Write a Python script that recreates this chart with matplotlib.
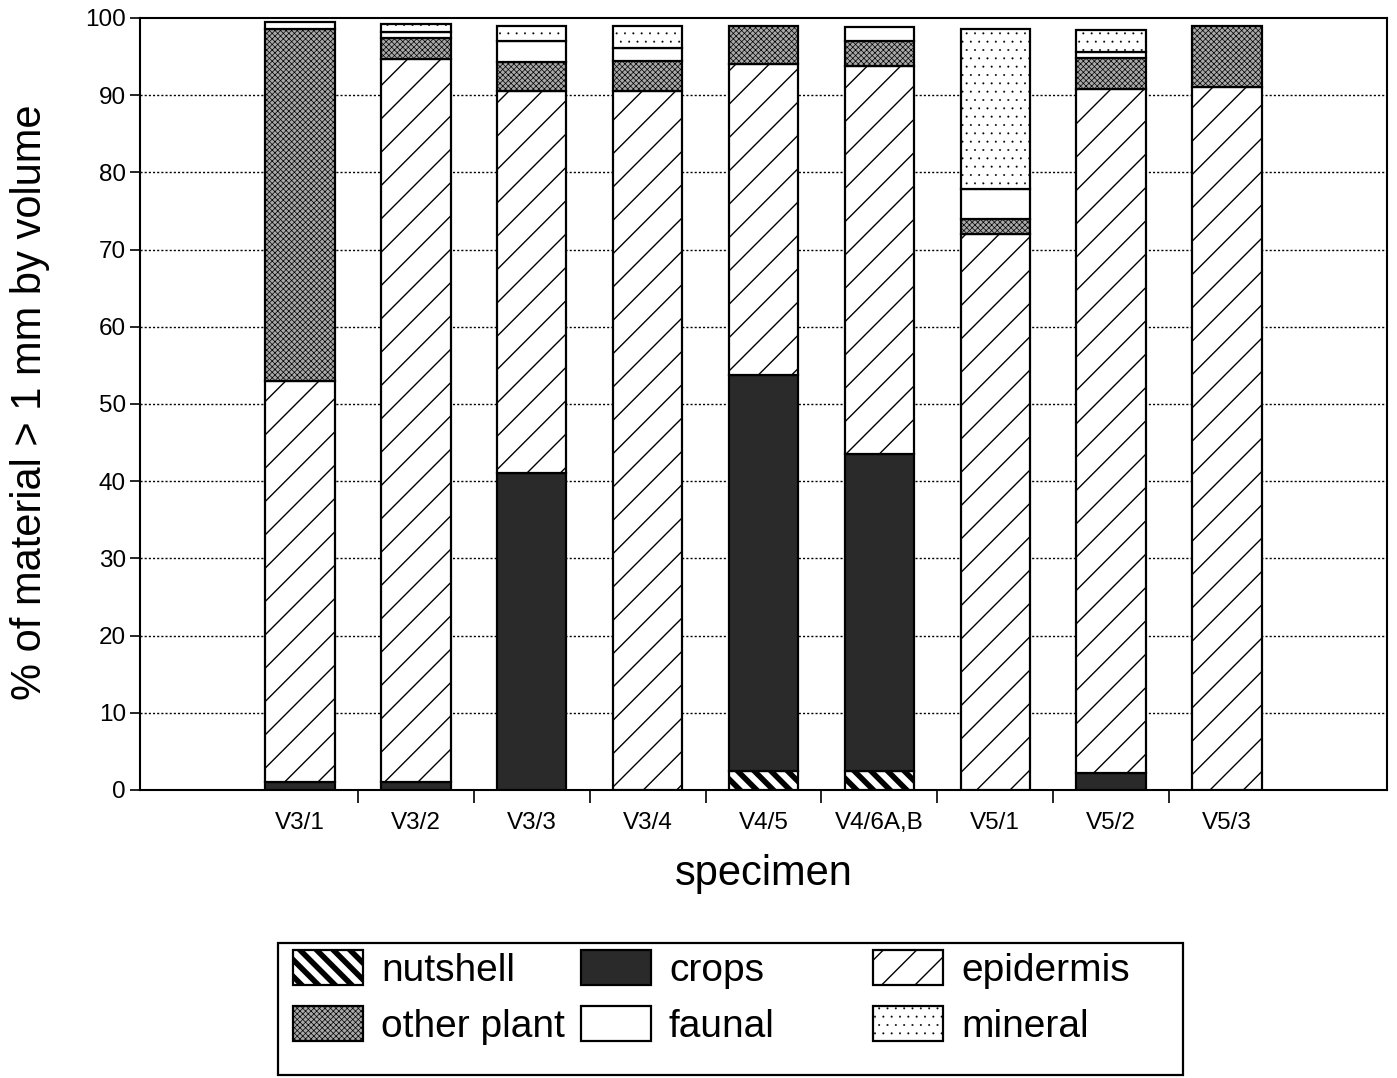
import numpy as np
import matplotlib
matplotlib.use("Agg")
import matplotlib.pyplot as plt
from matplotlib.patches import Rectangle, Patch

plt.rcParams['font.family'] = ['Liberation Sans', 'DejaVu Sans']

# ---- data ----
specimens = ["V3/1", "V3/2", "V3/3", "V3/4", "V4/5", "V4/6A,B", "V5/1", "V5/2", "V5/3"]
nutshell  = [0.0, 0.0, 0.0, 0.0, 2.5, 2.5, 0.0, 0.0, 0.0]
crops     = [1.0, 1.0, 41.0, 0.0, 51.2, 41.0, 0.0, 2.2, 0.0]
epidermis = [52.0, 93.7, 49.5, 90.5, 40.3, 50.3, 72.0, 88.6, 91.0]
other_plant = [45.6, 2.7, 3.8, 3.9, 5.0, 3.2, 2.0, 4.0, 8.0]
faunal    = [0.9, 0.8, 2.7, 1.7, 0.0, 1.8, 3.9, 0.8, 0.0]
mineral   = [0.0, 1.0, 2.0, 2.9, 0.0, 0.0, 20.7, 2.8, 0.0]
yticks = list(range(0, 101, 10))

series = [
    ("nutshell", nutshell, dict(facecolor="white", hatch="\\\\", hlw=4.0)),
    ("crops", crops, dict(facecolor="#2a2a2a", hatch=None, hlw=1.0)),
    ("epidermis", epidermis, dict(facecolor="white", hatch="/", hlw=1.0)),
    ("other plant", other_plant, dict(facecolor="#a8a8a8", hatch="xxxxxx", hlw=0.5)),
    ("faunal", faunal, dict(facecolor="white", hatch=None, hlw=1.0)),
    ("mineral", mineral, dict(facecolor="white", hatch="..", hlw=0.2)),
]

W, H = 1397, 1078
fig = plt.figure(figsize=(W / 100, H / 100), dpi=100)
ax = fig.add_axes([140 / W, 1 - 790 / H, (1387 - 140) / W, (790 - 18) / H])

x = np.arange(len(specimens))
bottom = np.zeros(len(specimens))
proxies = {}
for name, vals, st in series:
    vals = np.asarray(vals, dtype=float)
    with plt.rc_context({'hatch.linewidth': st['hlw']}):
        bars = ax.bar(x, vals, width=0.6, bottom=bottom, facecolor=st['facecolor'],
                      edgecolor="black", linewidth=1.6, hatch=st['hatch'], zorder=3,
                      label=name)
        proxies[name] = Patch(facecolor=st['facecolor'], edgecolor="black",
                              linewidth=1.6, hatch=st['hatch'])
    for b, v in zip(bars, vals):
        if hasattr(b, "set_hatch_linewidth"):
            b.set_hatch_linewidth(st['hlw'])
        if v <= 0:
            b.set_visible(False)
    bottom = bottom + vals

hlws = {name: st['hlw'] for name, _, st in series}

ax.set_xlim(-1.38, 9.38)
ax.set_ylim(0, 100)
ax.set_yticks(yticks)
ax.set_yticklabels([str(t) for t in yticks], fontsize=17.5)
ax.tick_params(axis='y', direction='out', length=7, width=1.2, pad=3)

ax.set_xticks(x)
ax.set_xticklabels(specimens, fontsize=17.5)
ax.tick_params(axis='x', which='major', length=0, pad=16)
ax.set_xticks(np.arange(0.5, len(specimens) - 1, 1.0), minor=True)
ax.tick_params(axis='x', which='minor', direction='out', length=9, width=1.2)

for t in yticks[1:-1]:
    ax.axhline(t, color="black", linestyle=(0, (1.5, 1.5)), linewidth=1.0, zorder=1)

for s in ax.spines.values():
    s.set_linewidth(1.5)

ax.set_xlabel("specimen", fontsize=30, labelpad=14)
fig.text(30 / W, 1 - 402 / H, "% of material > 1 mm by volume", rotation=90,
         fontsize=30, ha="center", va="center")

# ---- legend: three columns inside one framed box ----
fig.patches.append(Rectangle((278 / W, 1 - 1075 / H), (1183 - 278) / W, (1075 - 943) / H,
                             transform=fig.transFigure, fill=False, edgecolor="black",
                             linewidth=1.6))
cols = [("nutshell", "other plant"), ("crops", "faunal"), ("epidermis", "mineral")]
col_x = [293, 581, 873]
for names, cx in zip(cols, col_x):
    hs = [proxies[n] for n in names]
    with plt.rc_context({'hatch.linewidth': hlws[names[0]]}):
        leg = fig.legend(hs, list(names), loc="upper left",
                         bbox_to_anchor=(cx / W, 1 - 950 / H), frameon=False,
                         fontsize=28, handlelength=1.8, handleheight=1.0,
                         handletextpad=0.46, labelspacing=0.45, borderpad=0,
                         borderaxespad=0)
    for p, n in zip(leg.get_patches(), names):
        if hasattr(p, "set_hatch_linewidth"):
            p.set_hatch_linewidth(hlws[n])

fig.savefig("out.png", dpi=100)
